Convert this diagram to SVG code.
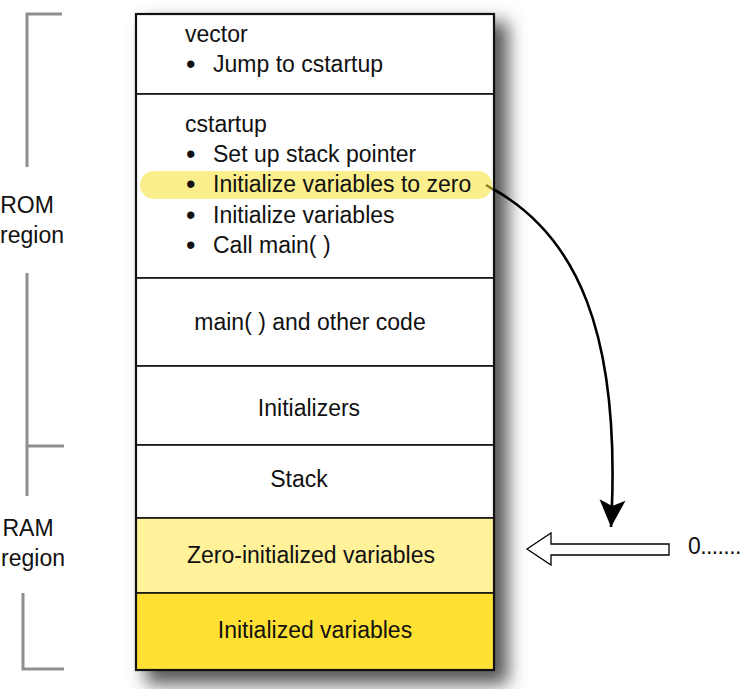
<svg xmlns="http://www.w3.org/2000/svg" width="743" height="689" viewBox="0 0 743 689">
<defs>
<filter id="shadow" x="-20%" y="-20%" width="150%" height="150%">
<feGaussianBlur stdDeviation="9"/>
</filter>
<marker id="head" markerUnits="userSpaceOnUse" markerWidth="30" markerHeight="30" viewBox="-28 -15 30 30" refX="0" refY="0" orient="auto">
<path d="M0,0 L-27,-13 L-21,0 L-27,13 Z" fill="#000"/>
</marker>
</defs>
<style>
text{font-family:"Liberation Sans",Arial,sans-serif;font-size:23px;fill:#111;}
.c{text-anchor:middle;}
.b{font-size:27px;}
.sec{stroke:#111;stroke-width:1.6;}
.br{stroke:#8f8f8f;stroke-width:3;fill:none;}
</style>
<rect width="743" height="689" fill="#fff"/>

<g id="brackets">
<path class="br" d="M62,14 H27 V167"/>
<path class="br" d="M27,273 V496 M27,446 H64"/>
<path class="br" d="M23,593 V669 H64"/>
</g>
<g id="rom-label">
<text class="c" x="27" y="213">ROM</text>
<text class="c" x="32" y="243">region</text>
</g>
<g id="ram-label">
<text class="c" x="28" y="536">RAM</text>
<text class="c" x="33" y="566">region</text>
</g>

<rect x="146" y="22" width="362" height="662" fill="#555" filter="url(#shadow)"/>

<g id="vector">
<rect x="136" y="14" width="358" height="80" fill="#fff" class="sec"/>
<text x="185" y="42">vector</text>
<text class="b" x="186" y="73">•</text>
<text x="213" y="72">Jump to cstartup</text>
</g>
<g id="cstartup">
<rect x="136" y="94" width="358" height="184" fill="#fff" class="sec"/>
<rect x="140" y="171" width="352" height="28" rx="14" fill="#fbee8c"/>
<text x="185" y="132">cstartup</text>
<text class="b" x="186" y="163">•</text>
<text x="213" y="162">Set up stack pointer</text>
<text class="b" x="186" y="193">•</text>
<text x="213" y="192">Initialize variables to zero</text>
<text class="b" x="186" y="224">•</text>
<text x="213" y="223">Initialize variables</text>
<text class="b" x="186" y="254">•</text>
<text x="213" y="253">Call main( )</text>
</g>
<g id="main-code">
<rect x="136" y="278" width="358" height="88" fill="#fff" class="sec"/>
<text class="c" x="310" y="330">main( ) and other code</text>
</g>
<g id="initializers">
<rect x="136" y="366" width="358" height="79" fill="#fff" class="sec"/>
<text class="c" x="309" y="416">Initializers</text>
</g>
<g id="stack">
<rect x="136" y="445" width="358" height="73" fill="#fff" class="sec"/>
<text class="c" x="299" y="487">Stack</text>
</g>
<g id="zero-init">
<rect x="136" y="518" width="358" height="75" fill="#fff29a" class="sec"/>
<text class="c" x="311" y="563">Zero-initialized variables</text>
</g>
<g id="init">
<rect x="136" y="593" width="358" height="77" fill="#ffe033" class="sec"/>
<text class="c" x="315" y="638">Initialized variables</text>
</g>
<rect x="136" y="14" width="358" height="656" fill="none" stroke="#111" stroke-width="2.2"/>

<g id="connectors">
<path d="M486,185 L494,190" stroke="#8a7d20" stroke-width="2.5"/>
<path d="M493,189 C575,235 622,330 611,527" fill="none" stroke="#000" stroke-width="2.6" marker-end="url(#head)"/>
<polygon points="527,549 551,533 551,544 669,544 669,555 551,555 551,565" fill="#fff" stroke="#000" stroke-width="1.3" stroke-linejoin="miter"/>
</g>
<g id="zero-label">
<text x="688" y="554" letter-spacing="-0.6">0.......</text>
</g>
</svg>
